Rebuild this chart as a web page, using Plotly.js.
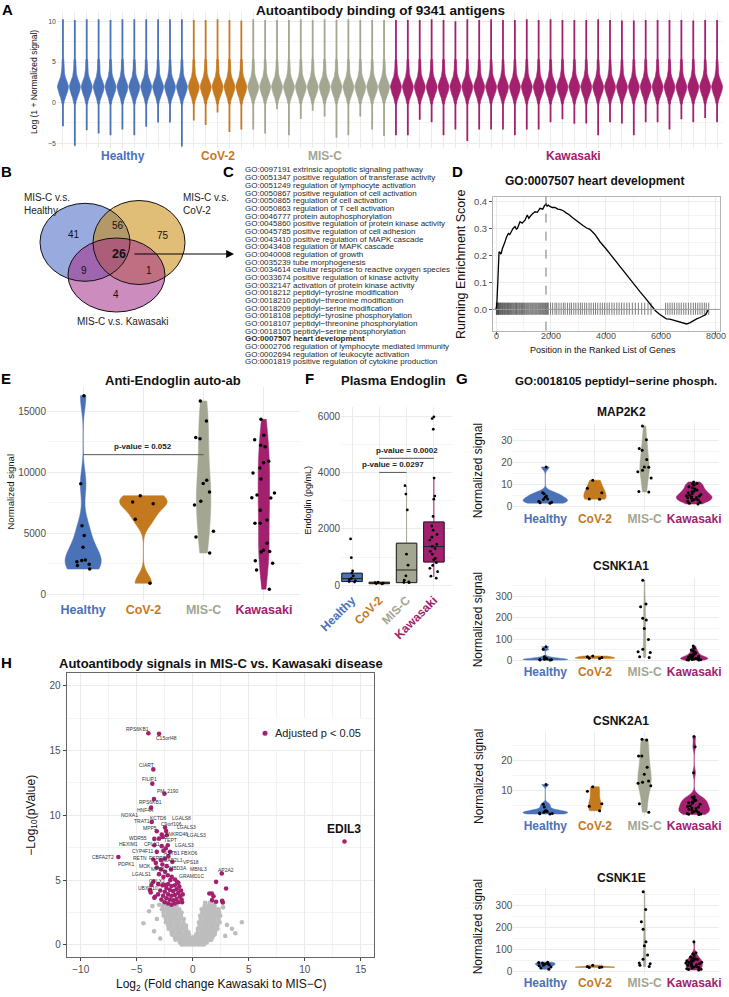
<!DOCTYPE html>
<html><head><meta charset="utf-8">
<script src="https://cdn.plot.ly/plotly-3.0.1.min.js"></script>
<style>html,body{margin:0;padding:0;background:#fff;}#chart{width:729px;height:997px;}</style>
</head><body><div id="chart"></div>
<script>
// ================= DATA =================
const groups = ['Healthy','CoV-2','MIS-C','Kawasaki'];
const groupColors = ['#4A72B8','#C5791F','#A3A690','#A3206F'];

// Panel A: 56 samples (per-sample violin tail extents, log scale)
const sampleCounts = [11,5,12,28];
const sampleMin = [-2.9,-5.3,-3.4,-3.8,-4.0,-3.3,-4.0,-2.95,-2.45,-2.45,-5.4,
  -2.2,-2.75,-1.2,-3.6,-3.3,
  -3.3,-3.8,-0.8,-4.0,-2.0,-1.0,-1.7,-4.3,-4.0,-1.7,-3.3,-4.1,
  -4.0,-4.0,-2.1,-2.4,-4.0,-3.3,-4.7,-3.3,-3.3,-3.3,-4.0,-3.3,-3.3,-2.4,-2.05,-2.6,-2.55,-4.0,-2.4,-2.55,-4.0,-2.4,-2.4,-3.3,-2.05,-2.4,-1.9,-2.4];
const sampleMax = [10.25,10.17,10.25,10.25,10.17,10.25,10.25,10.25,10.25,10.25,10.25,
  10.17,10.17,10.25,10.17,10.1,
  10.25,10.17,10.17,10.17,10.25,10.17,10.25,10.17,10.25,10.17,10.17,10.17,
  10.17,10.17,10.17,10.25,10.17,10.0,10.25,10.17,10.25,10.17,10.17,10.25,10.17,10.25,10.17,10.17,10.17,10.25,10.17,10.1,10.1,10.17,10.17,10.17,10.17,10.1,10.17,10.17];
// common density profile of the violin bodies (value level, half-width in sample units)
const densityLevels    = [-0.2, 0.2, 0.6, 1.0, 1.4, 1.7, 1.9, 2.1, 2.4, 2.8, 3.2, 3.6, 4.1, 4.7, 5.3];
const densityHalfWidth = [0.07,0.11,0.19,0.30,0.40,0.45,0.46,0.45,0.40,0.30,0.19,0.13,0.10,0.085,0.075];

// Panel B: Venn counts
const vennCounts = ['41','56','75','26','9','1','4'];
const vennSetNames = ['MIS-C v.s.<br>Healthy','MIS-C v.s.<br>CoV-2','MIS-C v.s. Kawasaki'];

// Panel C: GO terms
const goTerms = [
'GO:0097191 extrinsic apoptotic signaling pathway',
'GO:0051347 positive regulation of transferase activity',
'GO:0051249 regulation of lymphocyte activation',
'GO:0050867 positive regulation of cell activation',
'GO:0050865 regulation of cell activation',
'GO:0050863 regulation of T cell activation',
'GO:0046777 protein autophosphorylation',
'GO:0045860 positive regulation of protein kinase activity',
'GO:0045785 positive regulation of cell adhesion',
'GO:0043410 positive regulation of MAPK cascade',
'GO:0043408 regulation of MAPK cascade',
'GO:0040008 regulation of growth',
'GO:0035239 tube morphogenesis',
'GO:0034614 cellular response to reactive oxygen species',
'GO:0033674 positive regulation of kinase activity',
'GO:0032147 activation of protein kinase activity',
'GO:0018212 peptidyl\u2212tyrosine modification',
'GO:0018210 peptidyl\u2212threonine modification',
'GO:0018209 peptidyl\u2212serine modification',
'GO:0018108 peptidyl\u2212tyrosine phosphorylation',
'GO:0018107 peptidyl\u2212threonine phosphorylation',
'GO:0018105 peptidyl\u2212serine phosphorylation',
'GO:0007507 heart development',
'GO:0002706 regulation of lymphocyte mediated immunity',
'GO:0002694 regulation of leukocyte activation',
'GO:0001819 positive regulation of cytokine production'];
const goHighlight = 'GO:0007507 heart development';

// Panel D: running enrichment score
const esX = [0,30,60,90,110,150,182,230,267,300,327,380,448,500,570,620,691,740,776,830,873,950,1055,1100,1139,1190,1236,1300,1418,1500,1600,1700,1760,1818,1860,1903,1960,2050,2145,2250,2350,2448,2550,2650,2812,2950,3050,3176,3300,3418,3600,3782,4000,4267,4500,4752,5000,5236,5450,5661,5800,5950,6100,6200,6327,6450,6570,6700,6800,6933,7050,7176,7300,7420,7539,7620,7680,7721];
const esY = [0,0.02,0.09,0.158,0.214,0.21,0.205,0.225,0.233,0.245,0.251,0.268,0.282,0.278,0.294,0.3,0.307,0.298,0.3,0.318,0.325,0.32,0.331,0.342,0.35,0.338,0.344,0.352,0.362,0.36,0.375,0.372,0.384,0.391,0.383,0.387,0.382,0.378,0.378,0.372,0.37,0.366,0.358,0.352,0.338,0.326,0.318,0.31,0.302,0.297,0.278,0.251,0.225,0.19,0.158,0.128,0.096,0.066,0.04,0.01,-0.005,-0.018,-0.028,-0.035,-0.036,-0.04,-0.045,-0.048,-0.05,-0.054,-0.05,-0.041,-0.035,-0.03,-0.024,-0.02,-0.01,-0.002];
const esHits = [12,28,45,63,80,96,118,140,165,190,215,240,262,290,315,340,368,395,420,447,470,498,525,560,590,622,650,684,712,745,772,805,838,866,900,930,962,995,1030,1062,1100,1135,1170,1205,1245,1280,1318,1352,1390,1428,1465,1500,1540,1578,1615,1650,1690,1725,1762,1800,1835,1872,1903,1985,2060,2145,2210,2290,2370,2450,2515,2600,2680,2745,2830,2905,2990,3070,3140,3225,3300,3385,3460,3545,3620,3700,3790,3870,3950,4040,4120,4215,4300,4395,4480,4570,4660,4760,4850,4960,5070,5180,5300,5410,5530,5640,6170,6250,6330,6410,6490,6580,6660,6740,6830,6910,7000,7090,7180,7260,7340,7420,7500,7580,7650,7740];
const esTicks = [0,2000,4000,6000,8000];

// Panel E: anti-endoglin auto-ab (normalized signal)
const endoAbHealthy  = [16300,9050,5600,4800,3850,2800,2750,2650,2450,2350,2050];
const endoAbCov2     = [8080,7560,7420,6140,880];
const endoAbMisc     = [15860,14220,12850,12760,9340,9090,8380,7620,7310,5150,4680,3370];
const endoAbKawasaki = [14350,13040,12680,12220,12100,10900,10790,10350,9940,9450,8300,8130,7910,7890,6880,6080,5810,5810,4170,3590,3500,3450,2740,2520,1970,390];
const endoAbP = {from:1, to:3, y:11450, text:'p-value = 0.052'};

// Panel F: plasma endoglin (pg/mL)
const plasmaQ1     = [130, 55, 92, 825];
const plasmaMedian = [235, 80, 540, 1370];
const plasmaQ3     = [425, 105, 1490, 2240];
const plasmaLow    = [110, 45, 80, 290];
const plasmaHigh   = [480, 120, 3520, 3790];
const plasmaHealthy  = [1640,975,510,430,330,240,200,160,130,110];
const plasmaCov2     = [110,70,60,90,50];
const plasmaMisc     = [3530,3230,2670,1100,710,330,180,120,100,90];
const plasmaKawasaki = [5970,5910,5530,3800,3160,3050,2440,2100,1950,1800,1700,1600,1450,1380,1300,1200,1100,950,900,800,700,600,480,320,250];
const plasmaP = [{from:2,to:3,y:4000,text:'p-value = 0.0297'},{from:2,to:4,y:4500,text:'p-value = 0.0002'}];

// Panel G: four antigens (Healthy, CoV-2, MIS-C, Kawasaki)
const map2k2 = [[18,6.3,5.8,4.8,4.3,3.5,3.2,2.5,2.0,1.8,1.6],[12,8.3,6.3,3.5,3.4],[36.5,30.3,26.3,25.5,21.3,18,17.8,16.5,15.8,13,6.9,6.7],[11.2,10.5,10.3,9.8,9,8.6,8,7.5,7,6.8,6.3,6,5.5,5.2,5,4.8,4.5,4.2,4,3.8,3.5,3.2,3,2.8,2.5,2,1.5,1.2]];
const csnk1a1 = [[65,53,18,12,10,8,7,6,5,4,3],[22,18,15,12,10],[374,263,250,197,189,150,99,53,42,38,18,15],[68,58,50,45,40,36,30,28,25,22,20,18,16,15,14,12,11,10,9,8,7,6,5,5,4,3]];
const csnk2a1 = [[12.1,5.5,4.5,3.3,3.2,3.0,2.8,2.5,2.4,2.3,2.2],[11.3,9.8,5.6,4.8,3.3],[27.2,26.9,21.6,21.6,17.8,15.5,13.2,12.8,12.5,11.6,5.6,2.8],[28.1,24.7,16,8,7.8,7.5,7,6.8,6.5,6.2,6,5.8,5.5,5,4.7,4.5,4.2,4,3.8,3.5,3.2,3,2.8,2.6,2.4,2.2,2.1,2.0]];
const csnk1e = [[42,40,38,35,33,30,28,25,20,15,10],[28,22,20,18,18],[364,283,227,192,135,117,75,55,38,35,28,22],[135,85,80,72,65,60,58,55,52,50,48,45,42,40,38,35,32,30,28,25,22,20,18,15,12,10,8,6]];
const geneNames = ['MAP2K2','CSNK1A1','CSNK2A1','CSNK1E'];

// Panel H: volcano (log2 fold change, -log10 p)
const volcanoSig = [[-3.96,16.33],[-3.01,16.28],[-3.52,13.54],[-3.61,12.44],[-2.53,11.67],[-3.46,11.25],[-3.72,10.59],[-3.66,9.49],[-2.47,9.05],[-2.38,8.79],[-3.21,8.77],[-2.77,8.51],[-3.43,8.18],[-3.01,8.2],[-2.68,8.33],[-2.32,8.46],[-3.43,7.69],[-2.77,7.62],[-2.23,7.69],[-3.21,7.18],[-2.62,7.26],[-2.41,7.44],[-2.03,7.18],[-2.18,6.85],[-6.64,6.79],[-3.52,6.59],[-2.83,6.54],[-2.47,6.67],[-1.82,6.41],[-3.3,6.33],[-2.71,6.21],[-2.32,6.08],[-3.21,5.97],[-2.83,5.82],[-1.94,5.82],[-2.47,5.64],[-3.01,5.46],[-2.23,5.38],[-2.62,5.25],[-1.88,5.25],[-3.52,4.87],[-3.07,4.69],[-2.47,4.62],[-1.58,5.05],[-1.29,4.79],[-3.81,4.23],[-3.37,3.72],[-3.43,3.64],[-3.75,4.05],[-3.69,4.62],
[-2.8,3.5],[-2.5,3.3],[-2.2,3.2],[-1.9,3.1],[-1.6,3.2],[-1.3,3.3],[-1.0,3.5],[-2.65,3.8],[-2.35,3.6],[-2.05,3.5],[-1.75,3.45],[-1.45,3.55],[-1.15,3.75],[-2.5,4.1],[-2.2,3.9],[-1.9,3.8],[-1.6,3.85],[-1.3,4.0],[-1.05,4.2],[-2.35,4.4],[-2.05,4.25],[-1.75,4.15],[-1.45,4.3],[-1.2,4.5],[-2.7,4.6],[-2.2,4.7],[-1.9,4.55],[-1.6,4.6],[-1.4,4.85],[-2.0,5.0],[-2.9,4.2],[-3.1,3.9],[-0.9,3.9],[-0.95,3.3],
[2.59,5.51],[2.08,4.87],[2.97,4.36],[1.7,3.97],[1.85,3.76],[1.48,3.97],[1.72,3.46],[2.08,3.33],[2.62,3.41],[2.68,3.28],
[13.54,7.98]];
const volcanoGrayRows = [
 [0.04,[-1.0,-0.75,-0.5,-0.25,0,0.25,0.5,0.75,1.0]],
 [0.2,[-1.15,-0.85,-0.55,-0.25,0.05,0.35,0.65,0.95,1.25]],
 [0.4,[-1.55,-1.25,-0.95,-0.65,-0.35,-0.05,0.3,0.6,0.9,1.2,1.5,1.65]],
 [0.6,[-1.6,-1.3,-1.0,-0.7,-0.35,0.0,0.3,0.6,0.9,1.2,1.5,1.75]],
 [0.8,[-1.85,-1.55,-1.25,-0.95,-0.65,-0.35,0.3,0.6,0.9,1.2,1.5,1.8,1.95]],
 [1.0,[-1.9,-1.6,-1.3,-1.0,-0.65,-0.4,0.45,0.8,1.1,1.4,1.7,2.0]],
 [1.25,[-2.15,-1.85,-1.55,-1.25,-0.95,-0.6,0.45,0.75,1.05,1.35,1.65,1.95,2.2]],
 [1.5,[-2.2,-1.9,-1.55,-1.25,-0.95,-0.6,0.6,0.95,1.25,1.55,1.85,2.2]],
 [1.75,[-2.4,-2.1,-1.8,-1.5,-1.2,-0.85,0.55,0.85,1.15,1.45,1.75,2.05,2.4]],
 [2.0,[-2.4,-2.05,-1.75,-1.45,-1.15,-0.8,0.7,1.05,1.35,1.65,1.95,2.3]],
 [2.25,[-2.6,-2.3,-2.0,-1.7,-1.4,-1.05,0.65,0.95,1.25,1.55,1.85,2.15,2.45]],
 [2.5,[-2.6,-2.25,-1.95,-1.65,-1.35,-1.0,0.85,1.15,1.45,1.75,2.05,2.35]],
 [2.75,[-2.75,-2.45,-2.15,-1.85,-1.55,-1.2,0.8,1.1,1.4,1.7,2.0,2.3]],
 [3.0,[-2.65,-2.35,-2.05,-1.75,-1.45,1.05,1.35,1.65,1.95]],
 [3.25,[-2.6,-2.2,-1.8,-1.5,1.1,1.5,1.85]]];
const volcanoGrayOutliers = [[-4.4,1.67],[-3.9,2.6],[-3.45,1.05],[-3.2,2.0],[-3.0,3.1],[-2.9,0.5],[2.9,0.7],[3.05,1.55],[3.5,1.25],[3.8,0.9],[4.38,1.75],[2.7,2.9],[-3.6,3.0]];
const volcanoLabels = ['RPS6KB1','C15orf48','CIART','FILIP1','PM_2190','RPS6KB1','HNF4A','NOXA1','KCTD6','LGALS8','TRAT1','C9orf106','LGALS3','MPP5','ANKRD46','LGALS3','WDR55','TEPT','HEXIM1','CPLX1','LGALS3','CYP4F11','ASTB1','FBXO6','CBFA2T2','RETN','FCRP1','MAD2L1','VPS18','PDPK1','MOK','MPP6','MBD3A','MBNL3','AP2A2','LGALS1','GRAMD1C','CPLX2','UBXN10'];
const volcanoHighlight = {name:'EDIL3', x:13.54, y:7.98};

// ================= LAYOUT HELPERS (positions / styles) =================
const W = 729, H = 997;
const FONT = "'Liberation Sans', Arial, sans-serif";
const LETTERFONT = "'Liberation Sans Narrow', 'Liberation Sans', Arial, sans-serif";
const X = (l, r) => [l / W, r / W];
const Y = (t, b) => [1 - b / H, 1 - t / H];
const GRID = '#ebebeb', MINOR = '#f4f4f4', TICKC = '#4d4d4d';
const labelPlacement = [[-4.91,16.62],[-2.32,15.98],[-4.11,13.85],[-3.87,12.77],[-2.18,11.87],[-3.75,11.02],[-4.2,10.44],[-5.66,10.05],[-3.07,9.79],[-1.04,9.79],[-4.5,9.54],[-1.94,9.31],[-0.6,9.1],[-3.79,9.02],[-1.49,8.59],[0.29,8.46],[-4.91,8.28],[-2.03,8.08],[-5.75,7.77],[-3.66,7.77],[-0.75,7.69],[-4.41,7.23],[-1.82,7.13],[-0.3,7.1],[-7.98,6.79],[-4.71,6.67],[-3.13,6.72],[-1.73,6.59],[-0.15,6.41],[-5.89,6.21],[-4.26,6.1],[-3.07,5.85],[-1.34,5.95],[0.5,5.85],[2.97,5.82],[-4.55,5.46],[-0.15,5.33],[-3.21,4.95],[-3.96,4.36]];

const ann = [];
function txt(text, xpx, ypx, size, o) {
  const a = Object.assign({text, x: xpx / W, y: 1 - ypx / H, xref:'paper', yref:'paper', showarrow:false,
    xanchor:'center', yanchor:'middle', font:{size, color:'#111', family:FONT}}, o || {});
  ann.push(a); return a;
}
function nrd0(v) {
  const s = [...v].sort((a,b)=>a-b), n = s.length;
  const m = s.reduce((a,b)=>a+b,0)/n;
  const sd = Math.sqrt(s.reduce((a,b)=>a+(b-m)*(b-m),0)/(n-1));
  const q = p => { const h=(n-1)*p, lo=Math.floor(h); return s[lo] + (h-lo)*((s[Math.min(lo+1,n-1)])-s[lo]); };
  let lo = Math.min(sd, (q(0.75)-q(0.25))/1.34);
  if (!(lo > 0)) lo = sd || Math.abs(s[0]) || 1;
  return 0.9 * lo * Math.pow(n, -0.2);
}
const catTickText = groups.map((g,i)=>`<span style="color:${groupColors[i]}"><b>${g}</b></span>`);

const traces = [];

// ---------- Panel A ----------
let sIdx = 0;
sampleCounts.forEach((n, g) => {
  const sx=[], sy=[], bx=[], by=[];
  for (let k = 0; k < n; k++) {
    sIdx++; const i = sIdx - 1;
    sx.push(sIdx, sIdx, null); sy.push(sampleMin[i], sampleMax[i], null);
    for (let j = 0; j < densityLevels.length; j++) { bx.push(sIdx - densityHalfWidth[j]); by.push(densityLevels[j]); }
    for (let j = densityLevels.length - 1; j >= 0; j--) { bx.push(sIdx + densityHalfWidth[j]); by.push(densityLevels[j]); }
    bx.push(null); by.push(null);
  }
  traces.push({type:'scatter', mode:'lines', x:sx, y:sy, xaxis:'x', yaxis:'y', line:{color:groupColors[g], width:1.8}, hoverinfo:'skip', showlegend:false});
  traces.push({type:'scatter', mode:'lines', x:bx, y:by, xaxis:'x', yaxis:'y', fill:'toself', fillcolor:groupColors[g], line:{color:groupColors[g], width:0.6}, hoverinfo:'skip', showlegend:false});
});

// ---------- Panel D ----------
const hx = [], hy = [];
esHits.forEach(h => { hx.push(h, h, null); hy.push(-0.02, 0.025, null); });
traces.push({type:'scatter', mode:'lines', x:hx, y:hy, xaxis:'x2', yaxis:'y2', line:{color:'#222', width:0.6}, hoverinfo:'skip', showlegend:false});
traces.push({type:'scatter', mode:'lines', x:esX, y:esY, xaxis:'x2', yaxis:'y2', line:{color:'#000', width:1.3}, hoverinfo:'skip', showlegend:false});
const esPeakX = esX[esY.indexOf(Math.max(...esY))];

// ---------- violin panels (E, G) ----------
function violinPanel(xa, ya, sets, widths, jitterW, msize) {
  sets.forEach((vals, g) => {
    traces.push({type:'violin', xaxis:xa, yaxis:ya, x0:g+1, y:vals, spanmode:'hard', bandwidth:nrd0(vals),
      scalemode:'width', width:widths[g], fillcolor:groupColors[g], line:{color:groupColors[g], width:0.5},
      points:false, box:{visible:false}, meanline:{visible:false}, hoverinfo:'skip', showlegend:false});
    traces.push({type:'box', xaxis:xa, yaxis:ya, x0:g+1, y:vals, width:jitterW, boxpoints:'all', jitter:1, pointpos:0,
      fillcolor:'rgba(0,0,0,0)', line:{width:0, color:'rgba(0,0,0,0)'}, whiskerwidth:0,
      marker:{color:'#000', size:msize}, hoverinfo:'skip', showlegend:false});
  });
}
violinPanel('x3','y3',[endoAbHealthy,endoAbCov2,endoAbMisc,endoAbKawasaki],[0.6,0.79,0.24,0.19],0.42,3.5);
violinPanel('x5','y5',map2k2,[0.9,0.45,0.19,0.72],0.36,3);
violinPanel('x6','y6',csnk1a1,[0.9,0.8,0.05,0.55],0.36,3);
violinPanel('x7','y7',csnk2a1,[0.9,0.26,0.27,0.62],0.36,3);
violinPanel('x8','y8',csnk1e,[0.4,0.8,0.05,0.33],0.36,3);

// ---------- Panel F ----------
const plasmaSets = [plasmaHealthy, plasmaCov2, plasmaMisc, plasmaKawasaki];
groups.forEach((g, i) => {
  traces.push({type:'box', xaxis:'x4', yaxis:'y4', x:[i+1], q1:[plasmaQ1[i]], median:[plasmaMedian[i]], q3:[plasmaQ3[i]],
    lowerfence:[plasmaLow[i]], upperfence:[plasmaHigh[i]], width:0.75, whiskerwidth:0, boxpoints:false,
    fillcolor:groupColors[i], line:{color:groupColors[i], width:1}, hoverinfo:'skip', showlegend:false});
  traces.push({type:'box', xaxis:'x4', yaxis:'y4', x:[i+1], q1:[plasmaQ1[i]], median:[plasmaMedian[i]], q3:[plasmaQ3[i]],
    lowerfence:[plasmaQ1[i]], upperfence:[plasmaQ3[i]], width:0.75, whiskerwidth:0, boxpoints:false,
    fillcolor:groupColors[i], line:{color:'#222', width:1}, hoverinfo:'skip', showlegend:false});
  traces.push({type:'box', xaxis:'x4', yaxis:'y4', x0:i+1, y:plasmaSets[i], width:0.36, boxpoints:'all', jitter:1, pointpos:0,
    fillcolor:'rgba(0,0,0,0)', line:{width:0, color:'rgba(0,0,0,0)'}, whiskerwidth:0,
    marker:{color:'#000', size:2.8}, hoverinfo:'skip', showlegend:false});
});

// ---------- Panel H ----------
const grayX = [], grayY = [];
volcanoGrayRows.forEach(([yv, xs]) => xs.forEach(xv => { grayX.push(xv); grayY.push(yv); }));
volcanoGrayOutliers.forEach(([xv, yv]) => { grayX.push(xv); grayY.push(yv); });
traces.push({type:'scatter', mode:'markers', x:grayX, y:grayY, xaxis:'x9', yaxis:'y9', marker:{color:'#BDBDBD', size:4.6}, hoverinfo:'skip', showlegend:false});
traces.push({type:'scatter', mode:'markers', x:volcanoSig.map(p=>p[0]), y:volcanoSig.map(p=>p[1]), xaxis:'x9', yaxis:'y9', marker:{color:'#A3206F', size:4.6}, hoverinfo:'skip', showlegend:false});
volcanoLabels.forEach((lab, i) => {
  ann.push({text:lab, x:labelPlacement[i][0], y:labelPlacement[i][1], xref:'x9', yref:'y9', showarrow:false,
    font:{size:5, color:'#333', family:FONT}, xanchor:'center', yanchor:'middle'});
});
ann.push({text:'<b>'+volcanoHighlight.name+'</b>', x:volcanoHighlight.x, y:volcanoHighlight.y, xref:'x9', yref:'y9', showarrow:false,
  font:{size:12, color:'#111', family:FONT}, xanchor:'center', yanchor:'bottom', yshift:4});

// ================= AXES =================
function valAxis(dom, range, dtick, minor, fs, extra) {
  return Object.assign({domain:dom, range, dtick, tick0:0, tickformat:'d', showgrid:true, gridcolor:GRID, gridwidth:1, zeroline:false,
    ticks:'', tickfont:{size:fs, color:TICKC, family:FONT}, showline:false, fixedrange:true,
    minor:{dtick:minor, tick0:0, showgrid:true, gridcolor:MINOR, gridwidth:1}}, extra || {});
}
function catAxis(dom, range, fs, extra) {
  return Object.assign({domain:dom, range, tickvals:[1,2,3,4], ticktext:catTickText, showgrid:true, gridcolor:GRID,
    zeroline:false, ticks:'', tickfont:{size:fs, family:FONT}, showline:false, fixedrange:true}, extra || {});
}
const sampleTicks = []; for (let i = 1; i <= 56; i++) sampleTicks.push(i);

const layout = {
  width: W, height: H, margin:{l:0,r:0,t:0,b:0}, paper_bgcolor:'#fff', plot_bgcolor:'#fff',
  showlegend:false, violinmode:'overlay', boxmode:'overlay', font:{family:FONT},
  // A
  xaxis: {domain:X(57,723), range:[0.5,56.5], tickvals:sampleTicks, showticklabels:false, showgrid:true, gridcolor:GRID, zeroline:false, ticks:'', anchor:'y', fixedrange:true},
  yaxis: valAxis(Y(11.6,148.2), [-5.6,11.2], 5, 2.5, 7, {anchor:'x'}),
  // D
  xaxis2: {domain:X(493,720), range:[-110,8150], tickvals:esTicks, showticklabels:false, showgrid:true, gridcolor:GRID, zeroline:false,
    ticks:'outside', ticklen:3, tickcolor:'#555', showline:true, mirror:true, linecolor:'#b5b5b5', linewidth:1,
    minor:{dtick:1000, tick0:0, showgrid:true, gridcolor:MINOR}, anchor:'y2', fixedrange:true},
  yaxis2: {domain:Y(196.7,330.7), range:[-0.079,0.418], tickvals:[0,0.1,0.2,0.3,0.4], ticktext:['0.0','0.1','0.2','0.3','0.4'], showgrid:true, gridcolor:GRID, zeroline:false,
    ticks:'outside', ticklen:3, tickcolor:'#555', tickfont:{size:9.5, color:TICKC, family:FONT}, showline:true, mirror:true, linecolor:'#b5b5b5', linewidth:1,
    minor:{dtick:0.05, tick0:0, showgrid:true, gridcolor:MINOR}, anchor:'x2', fixedrange:true},
  // E
  xaxis3: catAxis(X(47,300), [0.4,4.6], 12.5, {anchor:'y3'}),
  yaxis3: valAxis(Y(387,600), [-493,17010], 5000, 2500, 10, {anchor:'x3'}),
  // F
  xaxis4: catAxis(X(341.1,451.6), [0.6,4.65], 12, {anchor:'y4', tickangle:-45}),
  yaxis4: valAxis(Y(406.7,590), [-170,6330], 2000, 1000, 10, {anchor:'x4'}),
  // G
  xaxis5: catAxis(X(513.3,719), [0.355,4.5], 12, {anchor:'y5'}),
  yaxis5: valAxis(Y(422.7,510), [-1.5,38], 10, 5, 10, {anchor:'x5'}),
  xaxis6: catAxis(X(513.3,719), [0.355,4.5], 12, {anchor:'y6'}),
  yaxis6: valAxis(Y(576.7,662.9), [-10,390], 100, 50, 10, {anchor:'x6'}),
  xaxis7: catAxis(X(513.3,719), [0.355,4.5], 12, {anchor:'y7'}),
  yaxis7: valAxis(Y(731.7,816.7), [1.3,29.7], 10, 5, 10, {anchor:'x7'}),
  xaxis8: catAxis(X(513.3,719), [0.355,4.5], 12, {anchor:'y8'}),
  yaxis8: valAxis(Y(888.3,973.5), [-10,380], 100, 50, 10, {anchor:'x8'}),
  // H
  xaxis9: {domain:X(66.7,374.3), range:[-11.25,16.2], dtick:5, tick0:0, showgrid:true, gridcolor:GRID, zeroline:false,
    ticks:'outside', ticklen:3, tickcolor:'#444', tickfont:{size:10, color:TICKC, family:FONT}, showline:true, mirror:true, linecolor:'#666', linewidth:1,
    minor:{dtick:2.5, tick0:0, showgrid:true, gridcolor:MINOR}, anchor:'y9', fixedrange:true},
  yaxis9: {domain:Y(673.3,957.3), range:[-0.95,20.95], dtick:5, tick0:0, showgrid:true, gridcolor:GRID, zeroline:false,
    ticks:'outside', ticklen:3, tickcolor:'#444', tickfont:{size:10, color:TICKC, family:FONT}, showline:true, mirror:true, linecolor:'#666', linewidth:1,
    minor:{dtick:2.5, tick0:0, showgrid:true, gridcolor:MINOR}, anchor:'x9', fixedrange:true},
  shapes: [], annotations: ann
};

// ================= SHAPES =================
const shapes = layout.shapes;
// D: zero line and peak dashed line
shapes.push({type:'line', xref:'x2 domain', yref:'y2', x0:0, x1:1, y0:0, y1:0, line:{color:'#9a9a9a', width:1}});
shapes.push({type:'line', xref:'x2', yref:'y2 domain', x0:esPeakX, x1:esPeakX, y0:0, y1:1, line:{color:'#777', width:1, dash:'dash'}});
// D x tick labels (placed close to the axis as in the reference)
esTicks.forEach(t => ann.push({text:String(t), x:t, xref:'x2', y:1-335.5/H, yref:'paper', showarrow:false, xanchor:'center', yanchor:'middle',
  font:{size:9, color:TICKC, family:FONT}}));
// E p-value bracket
shapes.push({type:'line', xref:'x3', yref:'y3', x0:endoAbP.from, x1:endoAbP.to, y0:endoAbP.y, y1:endoAbP.y, line:{color:'#555', width:1}});
ann.push({text:'<b>'+endoAbP.text+'</b>', x:(endoAbP.from+endoAbP.to)/2, y:endoAbP.y, xref:'x3', yref:'y3', showarrow:false, yanchor:'bottom', yshift:2, font:{size:8, color:'#222', family:FONT}});
// F p-value brackets
plasmaP.forEach(p => {
  shapes.push({type:'line', xref:'x4', yref:'y4', x0:p.from, x1:p.to, y0:p.y, y1:p.y, line:{color:'#555', width:1}});
  ann.push({text:'<b>'+p.text+'</b>', x:(p.from+p.to)/2, y:p.y, xref:'x4', yref:'y4', showarrow:false, yanchor:'bottom', yshift:1, font:{size:8, color:'#222', family:FONT}});
});
// B Venn (pixel geometry)
const vennShapes = [
  {x0:40, x1:130, y0:203.3, y1:281.3, fill:'rgba(70,100,195,0.55)'},
  {x0:93, x1:185, y0:200.5, y1:284.5, fill:'rgba(200,137,10,0.55)'},
  {x0:68, x1:165, y0:238, y1:312, fill:'rgba(164,46,137,0.55)'}];
vennShapes.forEach(v => shapes.push({type:'circle', xref:'paper', yref:'paper', x0:v.x0/W, x1:v.x1/W, y0:1-v.y1/H, y1:1-v.y0/H, fillcolor:v.fill, line:{width:0}}));
vennShapes.forEach(v => shapes.push({type:'circle', xref:'paper', yref:'paper', x0:v.x0/W, x1:v.x1/W, y0:1-v.y1/H, y1:1-v.y0/H, fillcolor:'rgba(0,0,0,0)', line:{color:'#111', width:1}}));
// H legend box
shapes.push({type:'rect', xref:'paper', yref:'paper', x0:251.7/W, x1:365/W, y0:1-750/H, y1:1-718.3/H, fillcolor:'#fff', line:{width:0}, layer:'above'});
shapes.push({type:'circle', xref:'paper', yref:'paper', x0:262.5/W, x1:267.5/W, y0:1-735.8/H, y1:1-730.8/H, fillcolor:'#A3206F', line:{width:0}, layer:'above'});

// ================= TEXT =================
// panel letters
[['A',8,9],['B',6,172],['C',228,171],['D',457,172],['E',6,379],['F',309,379],['G',462,379],['H',6,662]]
  .forEach(([l,x,y]) => txt('<b>'+l+'</b>', x, y, 15, {font:{size:15, color:'#000', family:LETTERFONT}}));
// A
txt('<b>Autoantibody binding of 9341 antigens</b>', 381, 11, 13.5);
txt('Log (1 + Normalized signal)', 34, 82, 8.5, {textangle:-90});
[[122.7,0],[218,1],[325,2],[573,3]].forEach(([x,g]) => txt('<b>'+groups[g]+'</b>', x, 155.5, 12, {font:{size:12, color:groupColors[g], family:FONT}}));
// B
txt(vennSetNames[0], 22, 204.5, 10, {xanchor:'left', align:'left', font:{size:10, color:'#222', family:FONT}});
txt(vennSetNames[1], 181, 204.5, 10, {xanchor:'left', align:'left', font:{size:10, color:'#222', family:FONT}});
txt(vennSetNames[2], 123, 322, 10, {font:{size:10, color:'#222', family:FONT}});
const vennNumPos = [[74,235],[118,226],[163,236],[119,254],[84,270],[149,270],[116,295]];
vennCounts.forEach((c, i) => txt(i === 3 ? '<b>'+c+'</b>' : c, vennNumPos[i][0], vennNumPos[i][1], i === 3 ? 12.5 : 10, {font:{size: i===3?12.5:10, color:'#111', family:FONT}}));
ann.push({text:'', x:234/W, y:1-254/H, xref:'paper', yref:'paper', showarrow:true, ax:-101, ay:0, axref:'pixel', ayref:'pixel',
  arrowhead:2, arrowsize:1.3, arrowwidth:1.2, arrowcolor:'#000'});
// C
goTerms.forEach((t, i) => txt(t === goHighlight ? '<b>'+t+'</b>' : t, 243, 170 + i * 7.67, 8,
  {xanchor:'left', font:{size:8, color:'#2a2a2a', family:FONT}}));
// D
txt('<b>GO:0007507 heart development</b>', 594, 181, 12);
txt('Running Enrichment Score', 461, 265, 12.5, {textangle:-90});
txt('Position in the Ranked List of Genes', 603, 349.5, 9);
// E
txt('<b>Anti-Endoglin auto-ab</b>', 173, 380, 13);
txt('Normalized signal', 9.5, 492, 9.5, {textangle:-90});
// F
txt('<b>Plasma Endoglin</b>', 393, 380, 13);
txt('Endoglin (pg/mL)', 307.5, 500, 9, {textangle:-90});
// G
txt('<b>GO:0018105 peptidyl\u2212serine phosph.</b>', 616, 381, 11.5);
[[412.3,471],[565.7,620],[721,776.7],[878.3,927]].forEach(([ty, yc], i) => {
  txt('<b>'+geneNames[i]+'</b>', 621, ty, 12);
  txt('Normalized signal', 478.3, yc, 12, {textangle:-90});
});
// H
txt('<b>Autoantibody signals in MIS-C vs. Kawasaki disease</b>', 221, 663, 13);
txt('\u2212Log<sub>10</sub>(pValue)', 31.7, 815, 12, {textangle:-90});
txt('Log<sub>2</sub> (Fold change Kawasaki to MIS\u2212C)', 221, 985, 12);
txt('Adjusted p < 0.05', 272.7, 733.3, 11, {xanchor:'left', font:{size:11, color:'#222', family:FONT}});

Plotly.newPlot('chart', traces, layout, {staticPlot:true});
</script>
</body></html>
